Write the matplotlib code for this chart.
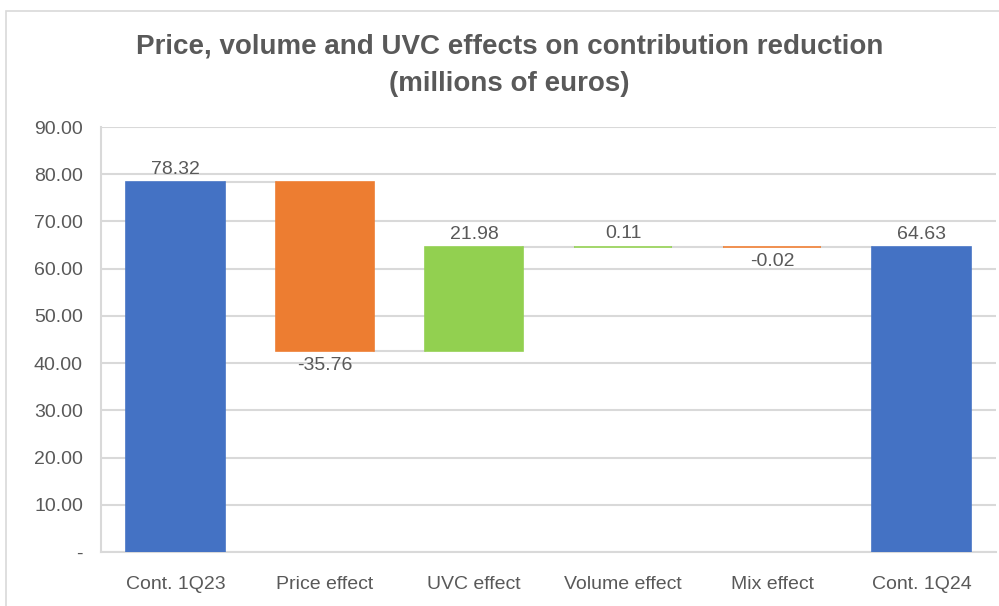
import numpy as np
import matplotlib.pyplot as plt
from matplotlib.patches import Rectangle

plt.rcParams['font.family'] = ['Liberation Sans', 'DejaVu Sans']

categories = ['Cont. 1Q23', 'Price effect', 'UVC effect', 'Volume effect', 'Mix effect', 'Cont. 1Q24']
values = [78.32, -35.76, 21.98, 0.11, -0.02, 64.63]
kinds = ['total', 'delta', 'delta', 'delta', 'delta', 'total']
yticks = [0, 10, 20, 30, 40, 50, 60, 70, 80, 90]

blue = '#4472C4'
orange = '#ED7D31'
green = '#92D050'
grid = '#D9D9D9'
txt = '#595959'

# waterfall bases / heights
bottoms, heights, colors, levels = [], [], [], []
running = 0.0
for v, k in zip(values, kinds):
    if k == 'total':
        running = v
        bottoms.append(0)
        heights.append(v)
        colors.append(blue)
    else:
        start = running
        running = running + v
        bottoms.append(min(start, running))
        heights.append(abs(v))
        colors.append(green if v > 0 else orange)
    levels.append(running)

fig = plt.figure(figsize=(9.99, 6.06), dpi=100)
fig.patches.append(Rectangle((6 / 999, -0.1), 1.2, 1 - 11 / 606 + 0.1, transform=fig.transFigure,
                             fill=False, edgecolor='#D9D9D9', linewidth=1.2))
ax = fig.add_axes([101 / 999, 54 / 606, 895 / 999, 425 / 606])

x = np.arange(len(categories))
width = 0.66
ax.bar(x, heights, width, bottom=bottoms, color=colors, edgecolor=colors, linewidth=1.2, zorder=3)

# connector lines
for i in range(len(x) - 1):
    ax.plot([x[i] + width / 2, x[i + 1] - width / 2], [levels[i], levels[i]],
            color=grid, linewidth=1.5, zorder=2)

# data labels
for i, (v, k) in enumerate(zip(values, kinds)):
    top = bottoms[i] + heights[i]
    if k == 'total' or v > 0:
        ax.text(x[i], top + 0.9, f'{v:.2f}', ha='center', va='bottom', fontsize=14, color=txt)
    else:
        ax.text(x[i], bottoms[i] - 1.3, f'{v:.2f}', ha='center', va='top', fontsize=14, color=txt)

ax.set_xlim(-0.5, len(x) - 0.5)
ax.set_ylim(0, 90)
ax.set_yticks(yticks)
ax.set_yticklabels(['-' if t == 0 else f'{t:.2f}' for t in yticks])
ax.set_xticks(x)
ax.set_xticklabels(categories)
ax.yaxis.grid(True, color=grid, linewidth=1.5, zorder=0)
ax.set_axisbelow(True)
for s in ['top', 'right']:
    ax.spines[s].set_visible(False)
ax.spines['left'].set_color(grid)
ax.spines['left'].set_linewidth(1.5)
ax.spines['bottom'].set_color(grid)
ax.spines['bottom'].set_linewidth(1.5)
ax.tick_params(axis='y', length=0, labelsize=14, labelcolor=txt, pad=13)
ax.tick_params(axis='x', length=0, labelsize=14, labelcolor=txt, pad=17)

fig.text(0.51, 1 - 46 / 606, 'Price, volume and UVC effects on contribution reduction',
         ha='center', va='center', fontsize=20, fontweight='bold', color=txt)
fig.text(0.51, 1 - 84 / 606, '(millions of euros)',
         ha='center', va='center', fontsize=20, fontweight='bold', color=txt)

fig.savefig('out.png', dpi=100)
